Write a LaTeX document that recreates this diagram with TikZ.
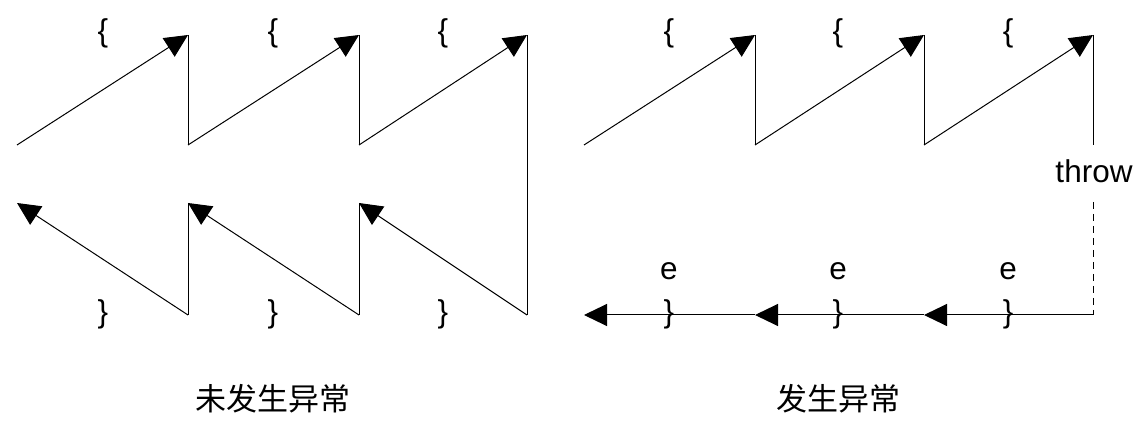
\documentclass[tikz,border=0pt]{standalone}
\usepackage{fontspec}
\setmainfont{Liberation Sans}
\newfontfamily\cjk{Noto Sans CJK SC}
\usetikzlibrary{arrows.meta}
\tikzset{
  ln/.style={line width=1pt, black},
  arr/.style={ln, -{Triangle[length=23pt,width=22pt]}},
  dsh/.style={ln, dash pattern=on 7pt off 5pt},
  lbl/.style={anchor=base, inner sep=0pt, font=\fontsize{31.5}{37}\selectfont},
  title/.style={anchor=base, inner sep=0pt, font=\fontsize{31}{37}\selectfont\cjk},
}
\begin{document}
\begin{tikzpicture}[x=1pt,y=-1pt]
\useasboundingbox (0,0) rectangle (1146,430);
% ---------- left diagram ----------
\coordinate (a0) at (17,145);
\coordinate (a1) at (188,35);
\coordinate (a1b) at (188,145);
\coordinate (a2) at (359,35);
\coordinate (a2b) at (359,145);
\coordinate (a3) at (527,35);
\coordinate (a3b) at (527,315);
\coordinate (b2) at (359,203);
\coordinate (b2b) at (359,315);
\coordinate (b1) at (188,203);
\coordinate (b1b) at (188,315);
\coordinate (b0) at (17,203);
\draw[arr] (a0) -- (a1);
\draw[ln] (a1) -- (a1b);
\draw[arr] (a1b) -- (a2);
\draw[ln] (a2) -- (a2b);
\draw[arr] (a2b) -- (a3);
\draw[ln] (a3) -- (a3b);
\draw[arr] (a3b) -- (b2);
\draw[ln] (b2) -- (b2b);
\draw[arr] (b2b) -- (b1);
\draw[ln] (b1) -- (b1b);
\draw[arr] (b1b) -- (b0);
\node[lbl] (lo1) at (103,41.5) {\{};
\node[lbl] (lo2) at (273,41.5) {\{};
\node[lbl] (lo3) at (443,41.5) {\{};
\node[lbl] (lc1) at (103,323) {\}};
\node[lbl] (lc2) at (273,323) {\}};
\node[lbl] (lc3) at (443,323) {\}};
\node[title] (t1) at (272.5,410) {未发生异常};
% ---------- right diagram ----------
\coordinate (c0) at (584,145);
\coordinate (c1) at (755,35);
\coordinate (c1b) at (755,145);
\coordinate (c2) at (924,35);
\coordinate (c2b) at (924,145);
\coordinate (c3) at (1093,35);
\coordinate (c3b) at (1093,145);
\coordinate (td) at (1093,202);
\coordinate (d3) at (1093,315);
\coordinate (d2) at (924,315);
\coordinate (d1) at (755,315);
\coordinate (d0) at (584,315);
\draw[arr] (c0) -- (c1);
\draw[ln] (c1) -- (c1b);
\draw[arr] (c1b) -- (c2);
\draw[ln] (c2) -- (c2b);
\draw[arr] (c2b) -- (c3);
\draw[ln] (c3) -- (c3b);
\node[lbl] (throw) at (1094,183) {throw};
\draw[dsh] (td) -- (d3);
\draw[arr] (d3) -- (d2);
\draw[arr] (d2) -- (d1);
\draw[arr] (d1) -- (d0);
\node[lbl] (ro1) at (669,41.5) {\{};
\node[lbl] (ro2) at (838,41.5) {\{};
\node[lbl] (ro3) at (1008,41.5) {\{};
\node[lbl] (e1) at (669,280) {e};
\node[lbl] (e2) at (838,280) {e};
\node[lbl] (e3) at (1008,280) {e};
\node[lbl] (rc1) at (669,323) {\}};
\node[lbl] (rc2) at (838,323) {\}};
\node[lbl] (rc3) at (1008,323) {\}};
\node[title] (t2) at (838,410) {发生异常};
\end{tikzpicture}
\end{document}
